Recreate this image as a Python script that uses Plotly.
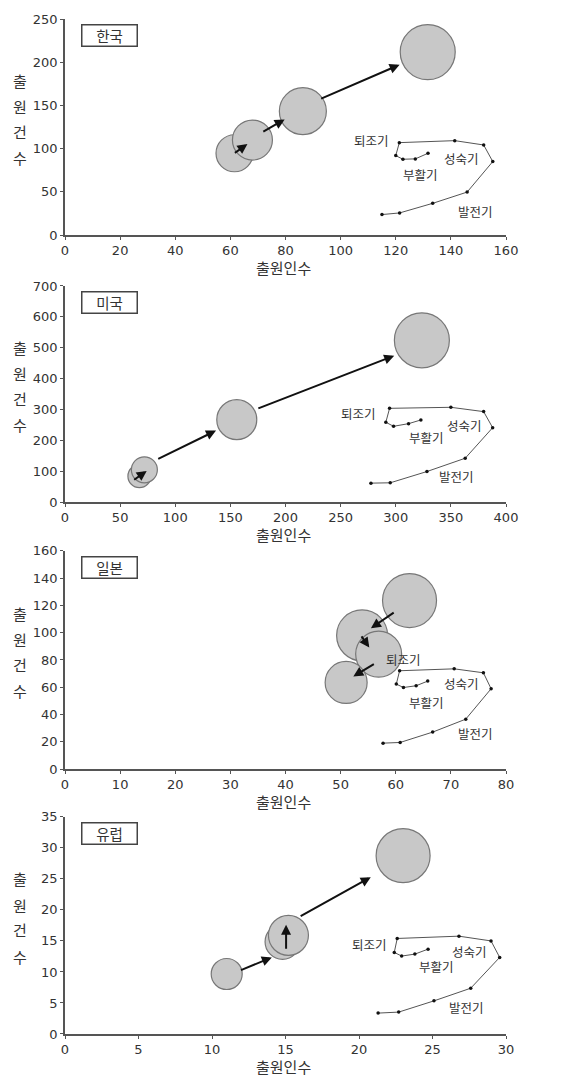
import plotly.graph_objects as go

# ---------------- data ----------------
regions = ["한국", "미국", "일본", "유럽"]
x_ranges = [[0, 160], [0, 400], [0, 80], [0, 30]]
y_ranges = [[0, 250], [0, 700], [0, 160], [0, 35]]
x_dticks = [20, 50, 10, 5]
y_dticks = [50, 100, 20, 5]

# bubbles (출원인수, 출원건수, bubble diameter px)
kr_x = [61.5, 68.0, 86.3, 131.6]
kr_y = [94.7, 110.0, 143.4, 211.7]
kr_s = [37, 40, 47, 55]
us_x = [67.5, 72.0, 155.8, 323.7]
us_y = [84.0, 104.5, 267.0, 524.0]
us_s = [23, 26, 40, 55]
jp_x = [62.5, 53.9, 56.9, 51.0]
jp_y = [123.6, 98.0, 84.3, 63.5]
jp_s = [54, 51, 46, 42]
eu_x = [11.0, 14.8, 15.2, 23.0]
eu_y = [9.67, 14.86, 15.9, 28.75]
eu_s = [31, 35, 40, 54]

# arrows (tail x, tail y, head x, head y)
kr_arrows = [(61.1, 94.0, 66.2, 105.4), (71.4, 118.9, 79.7, 133.8), (92.4, 157.2, 121.4, 197.1)]
us_arrows = [(61.4, 69.0, 74.1, 101.0), (83.2, 137.8, 137.0, 231.5), (174.0, 301.5, 298.6, 474.0)]
jp_arrows = [(59.9, 115.5, 55.5, 103.3), (53.6, 98.4, 55.2, 89.2), (56.3, 77.7, 52.3, 67.9)]
eu_arrows = [(11.87, 10.2, 14.07, 12.35), (15.04, 13.5, 15.04, 17.6), (15.93, 18.87, 20.8, 25.28)]

# technology life-cycle inset curves
kr_cx = [115, 121.4, 133.4, 145.9, 155.2, 151.9, 141.4, 121.3, 120, 122.6, 127.1, 131.7]
kr_cy = [23.8, 25.7, 36.8, 49.8, 85.1, 104.3, 109.3, 107, 92, 87.8, 88.2, 94.7]
us_cx = [277.5, 295, 328.3, 363, 387.9, 379.7, 350, 294.4, 291, 298, 311.6, 322.8]
us_cy = [61.4, 62.5, 99, 142, 241, 293, 307, 303.7, 258.5, 245.5, 254, 266]
jp_cx = [57.7, 60.8, 66.7, 72.7, 77.3, 75.9, 70.6, 60.7, 60.1, 61.4, 63.7, 65.8]
jp_cy = [19.0, 19.5, 27.1, 36.6, 58.9, 70.6, 73.5, 72.1, 62.3, 59.8, 61.1, 64.5]
eu_cx = [21.3, 22.7, 25.1, 27.6, 29.57, 28.98, 26.8, 22.6, 22.4, 22.9, 23.8, 24.7]
eu_cy = [3.37, 3.53, 5.34, 7.38, 12.35, 15.0, 15.77, 15.4, 13.15, 12.56, 12.88, 13.68]

stage_names = ["퇴조기", "성숙기", "부활기", "발전기"]
# label positions (fraction of plot area)
kr_lab = [(0.696, 0.438), (0.90, 0.355), (0.805, 0.281), (0.93, 0.11)]
us_lab = [(0.665, 0.41), (0.907, 0.355), (0.82, 0.30), (0.888, 0.12)]
jp_lab = [(0.767, 0.50), (0.90, 0.39), (0.82, 0.305), (0.93, 0.165)]
eu_lab = [(0.69, 0.41), (0.917, 0.38), (0.843, 0.31), (0.91, 0.12)]

x_title = "출원인수"
y_title = list("출원건수")

bubbles = [(kr_x, kr_y, kr_s), (us_x, us_y, us_s), (jp_x, jp_y, jp_s), (eu_x, eu_y, eu_s)]
arrows = [kr_arrows, us_arrows, jp_arrows, eu_arrows]
curves = [(kr_cx, kr_cy), (us_cx, us_cy), (jp_cx, jp_cy), (eu_cx, eu_cy)]
labels = [kr_lab, us_lab, jp_lab, eu_lab]

# ---------------- figure ----------------
W, H = 577, 1076
m_l, m_r, m_t, m_b = 65, 71, 15, 42
ph = H - m_t - m_b
px_domains = [(15, 232), (283, 500), (549, 768), (816, 1034)]
domains = [[(H - m_b - b) / ph, (H - m_b - t) / ph] for (t, b) in px_domains]
domains = [[max(0, d0), min(1, d1)] for d0, d1 in domains]

KFONT = "Noto Sans CJK KR"
NFONT = "DejaVu Sans, sans-serif"
TXT = "#333333"

fig = go.Figure()
layout = dict(
    width=W, height=H,
    margin=dict(l=m_l, r=m_r, t=m_t, b=m_b),
    paper_bgcolor="white", plot_bgcolor="white",
    showlegend=False,
)
annotations = []

for i in range(4):
    xa = "x" if i == 0 else f"x{i+1}"
    ya = "y" if i == 0 else f"y{i+1}"
    xkey = "xaxis" if i == 0 else f"xaxis{i+1}"
    ykey = "yaxis" if i == 0 else f"yaxis{i+1}"
    layout[xkey] = dict(
        domain=[0, 1], anchor=ya, range=x_ranges[i], dtick=x_dticks[i], tick0=0,
        showgrid=False, zeroline=False, showline=True, linecolor="#555555", linewidth=1.5,
        ticks="outside", ticklen=3, tickcolor="#555555",
        tickfont=dict(family=NFONT, size=13, color=TXT),
    )
    layout[ykey] = dict(
        domain=domains[i], anchor=xa, range=y_ranges[i], dtick=y_dticks[i], tick0=0,
        showgrid=False, zeroline=False, showline=True, linecolor="#555555", linewidth=1.5,
        ticks="outside", ticklen=3, tickcolor="#555555",
        tickfont=dict(family=NFONT, size=13, color=TXT),
    )

    # inset life-cycle curve
    cx, cy = curves[i]
    fig.add_trace(go.Scatter(
        x=cx, y=cy, xaxis=xa, yaxis=ya, mode="lines+markers",
        line=dict(color="#555555", width=1),
        marker=dict(color="#111111", size=3.5),
        hoverinfo="skip", cliponaxis=False,
    ))

    # bubbles
    bx, by, bs = bubbles[i]
    fig.add_trace(go.Scatter(
        x=bx, y=by, xaxis=xa, yaxis=ya, mode="markers",
        marker=dict(size=bs, color="#c8c8c8", opacity=1,
                    line=dict(color="#777777", width=1.2)),
        cliponaxis=False,
    ))

    # arrows
    for (tx, ty, hx, hy) in arrows[i]:
        annotations.append(dict(
            x=hx, y=hy, ax=tx, ay=ty, xref=xa, yref=ya, axref=xa, ayref=ya,
            showarrow=True, arrowhead=2, arrowsize=1.0, arrowwidth=2,
            arrowcolor="#111111", text="",
        ))

    # stage labels
    for name, (lx, ly) in zip(stage_names, labels[i]):
        annotations.append(dict(
            x=lx, y=ly, xref=f"{xa} domain", yref=f"{ya} domain",
            xanchor="center", yanchor="middle",
            text=name, showarrow=False,
            font=dict(family=KFONT, size=12.5, color=TXT),
        ))

    # region label box
    annotations.append(dict(
        x=0.036, y=0.975, xref=f"{xa} domain", yref=f"{ya} domain",
        xanchor="left", yanchor="top", text=regions[i], showarrow=False,
        width=52, height=18, bordercolor="#444444", borderwidth=1.5, borderpad=1,
        bgcolor="white", font=dict(family=KFONT, size=14.5, color=TXT),
    ))

    # x-axis title
    annotations.append(dict(
        x=0.495, y=0, xref=f"{xa} domain", yref=f"{ya} domain",
        xanchor="center", yanchor="middle", yshift=-32, text=x_title, showarrow=False,
        font=dict(family=KFONT, size=15, color=TXT),
    ))

    # y-axis title (stacked characters)
    for ch, yy in zip(y_title, [0.714, 0.594, 0.479, 0.359]):
        annotations.append(dict(
            x=0, y=yy, xref=f"{xa} domain", yref=f"{ya} domain",
            xanchor="center", yanchor="middle",
            xshift=-45, text=ch, showarrow=False,
            font=dict(family=KFONT, size=15, color=TXT),
        ))

layout["annotations"] = annotations
fig.update_layout(**layout)
fig.write_html(
    "out.html",
    config={"displayModeBar": False},
    post_script="document.body.style.margin='0px';document.body.style.overflow='hidden';",
)
